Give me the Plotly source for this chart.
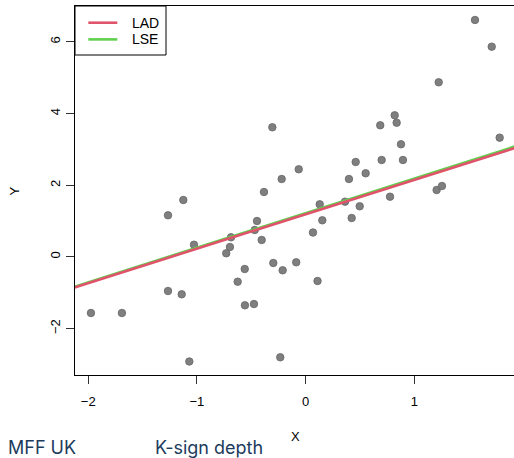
import numpy as np
import plotly.graph_objects as go

# Data
x_vals = [-1.975, -1.690, -1.266, -1.125, -1.027, -1.266, -1.140, -1.070, -0.730, -0.696,
          -0.686, -0.560, -0.625, -0.558, -0.475, -0.447, -0.468, -0.404, -0.383, -0.306,
          -0.297, -0.220, -0.211, -0.233, -0.086, -0.063, 0.068, 0.110, 0.130, 0.154,
          0.363, 0.399, 0.424, 0.461, 0.498, 0.553, 0.687, 0.700, 0.777, 0.820,
          0.838, 0.878, 0.896, 1.206, 1.255, 1.225, 1.559, 1.713, 1.786]
y_vals = [-1.566, -1.566, 1.161, 1.588, 0.340, -0.952, -1.044, -2.919, 0.100, 0.276,
          0.547, -0.338, -0.692, -1.351, -1.315, 1.002, 0.751, 0.472, 1.811, 3.617,
          -0.170, 2.174, -0.374, -2.802, -0.151, 2.445, 0.681, -0.673, 1.468, 1.021,
          1.541, 2.174, 1.086, 2.649, 1.412, 2.333, 3.673, 2.704, 1.680, 3.952,
          3.745, 3.143, 2.704, 1.867, 1.979, 4.873, 6.612, 5.867, 3.327]

# Fitted lines: [intercept, slope]
lad_coef = [1.189, 0.960]
lse_coef = [1.222, 0.966]

legend_names = ["LAD", "LSE"]
legend_colors = ["#DF536B", "#61D04F"]

x_ticks = [-2, -1, 0, 1]
y_ticks = [-2, 0, 2, 4, 6]

x_range = [-2.1218, 1.9179]
y_range = [-3.296, 7.002]

line_x = np.array([-2.6, 2.6])

fig = go.Figure()
fig.add_trace(go.Scatter(
    x=x_vals, y=y_vals, mode="markers", showlegend=False,
    marker=dict(size=7.5, color="#7f7f7f", line=dict(color="#666666", width=0.8)),
    hoverinfo="skip"))
fig.add_trace(go.Scatter(
    x=line_x, y=lse_coef[0] + lse_coef[1] * line_x, mode="lines", name="LSE",
    line=dict(color=legend_colors[1], width=2.6), showlegend=False, hoverinfo="skip"))
fig.add_trace(go.Scatter(
    x=line_x, y=lad_coef[0] + lad_coef[1] * line_x, mode="lines", name="LAD",
    line=dict(color=legend_colors[0], width=2.6), showlegend=False, hoverinfo="skip"))

axis_font = dict(family="Liberation Sans, Arial, sans-serif", size=13, color="black")
legend_font = dict(family="Liberation Sans, Arial, sans-serif", size=14, color="black")
footer_font = dict(family="Inter, sans-serif", size=18, color="#1d3b5c")

# Legend box (R-style) drawn in paper coordinates
shapes = [dict(type="rect", xref="paper", yref="paper", x0=0, x1=0.2073, y0=0.8672, y1=1,
               line=dict(color="black", width=1), fillcolor="white", layer="above")]
legend_y = [0.9547, 0.9095]
annotations = []
for name, col, ly in zip(legend_names, legend_colors, legend_y):
    shapes.append(dict(type="line", xref="paper", yref="paper", x0=0.0303, x1=0.0964,
                       y0=ly, y1=ly, line=dict(color=col, width=2.6), layer="above"))
    annotations.append(dict(text=name, xref="paper", yref="paper", x=0.1253, y=ly,
                            xanchor="left", yanchor="middle", showarrow=False,
                            font=legend_font))

annotations += [
    dict(text="X", xref="paper", yref="paper", x=0.5027, y=-0.1672,
         xanchor="center", yanchor="middle", showarrow=False, font=axis_font),
    dict(text="Y", xref="paper", yref="paper", x=-0.1367, y=0.5,
         xanchor="center", yanchor="middle", showarrow=False, textangle=-90,
         font=axis_font),
    dict(text="MFF UK", xref="paper", yref="paper", x=-0.1565, y=-0.197,
         xanchor="left", yanchor="middle", showarrow=False, font=footer_font),
    dict(text="K-sign depth", xref="paper", yref="paper", x=0.178, y=-0.197,
         xanchor="left", yanchor="middle", showarrow=False, font=footer_font),
]

fig.update_layout(
    width=514, height=458,
    margin=dict(l=75, r=0, t=6, b=83),
    paper_bgcolor="white", plot_bgcolor="white",
    font=axis_font,
    showlegend=False,
    hovermode=False,
    xaxis=dict(range=x_range, tickvals=x_ticks, ticks="outside", ticklen=8,
               tickcolor="#333333", showline=True, linecolor="black", linewidth=1,
               mirror=True, showgrid=False, zeroline=False, tickfont=axis_font,
               ticklabelstandoff=6),
    yaxis=dict(range=y_range, tickvals=y_ticks, ticks="outside", ticklen=8,
               tickcolor="#333333", showline=True, linecolor="black", linewidth=1,
               mirror=False, showgrid=False, zeroline=False, tickangle=-90,
               tickfont=axis_font, ticklabelstandoff=1),
    shapes=shapes,
    annotations=annotations,
)

fig.write_html("out.html", config={"displayModeBar": False},
               post_script="document.body.style.margin='0px';document.body.style.overflow='hidden';")
